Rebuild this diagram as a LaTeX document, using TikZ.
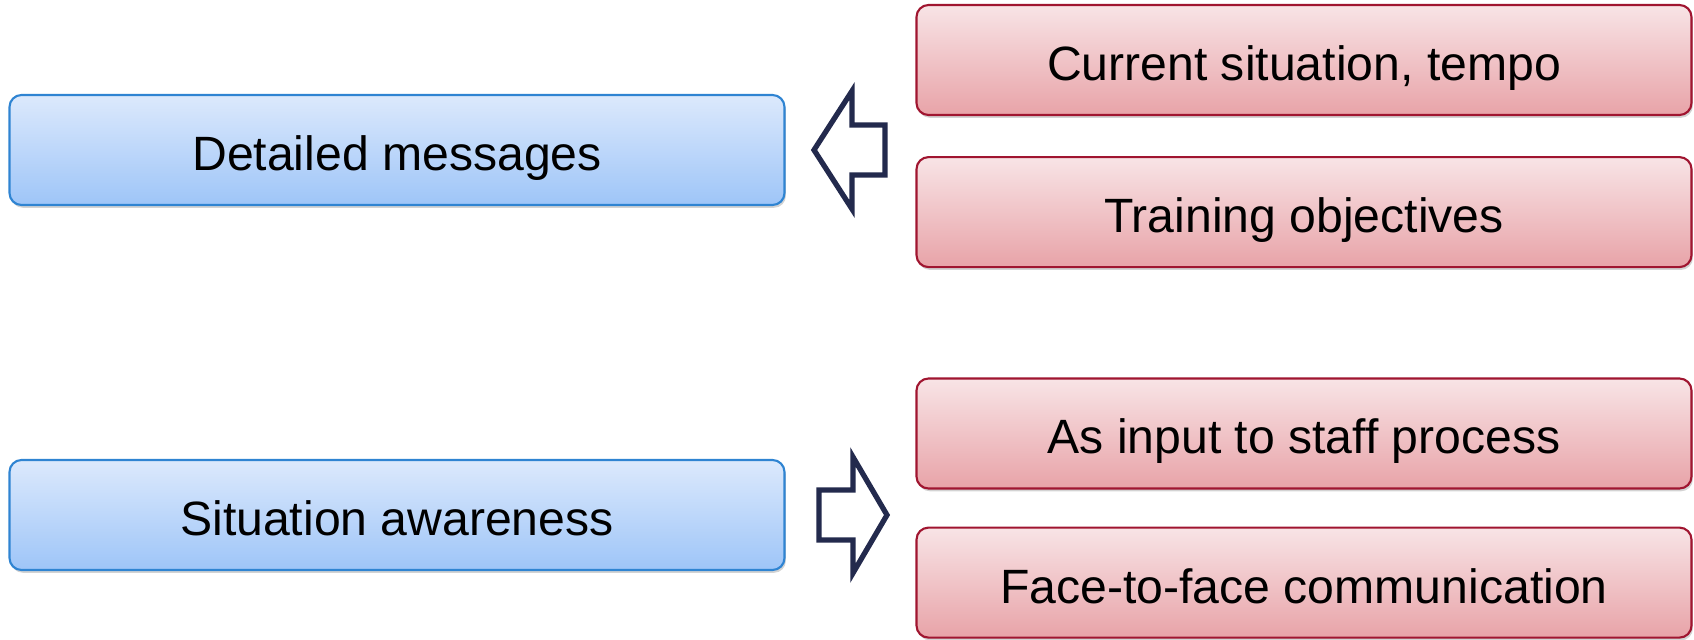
\documentclass[tikz,border=0pt]{standalone}
\usepackage{fontspec}
\setmainfont{Liberation Sans}
\usepackage{xcolor}
\usetikzlibrary{positioning, shadows}

\definecolor{blueTop}{HTML}{DCE9FC}
\definecolor{blueBot}{HTML}{9EC5F8}
\definecolor{blueLine}{HTML}{2F84D2}
\definecolor{redTop}{HTML}{F8E4E6}
\definecolor{redBot}{HTML}{E8A3A8}
\definecolor{redLine}{HTML}{A01530}
\definecolor{arrowNavy}{HTML}{232A4D}

\begin{document}
\begin{tikzpicture}[
    base/.style={rectangle, rounded corners=0.24cm, line width=1.2pt, minimum width=15.5cm, minimum height=2.2cm, font=\fontsize{27.4}{32}\selectfont,
        text height=24.7pt, text depth=1.4pt,
        drop shadow={opacity=0.35, shadow xshift=0.8pt, shadow yshift=-1.6pt}},
    source/.style={base, draw=blueLine, top color=blueTop, bottom color=blueBot},
    item/.style={base, draw=redLine, top color=redTop, bottom color=redBot},
    blockarrow/.style={draw=arrowNavy, line width=3pt, fill=white, line join=miter}]

    \useasboundingbox (0,0) rectangle (33.88,-12.78);

    % upper group
    \node[source] (detail) at (7.94,-3.0) {Detailed messages};
    \node[item] (tempo) at (26.08,-1.2) {Current situation, tempo};
    \node[item, below=0.8cm of tempo] (objectives) {Training objectives};

    % lower group
    \node[source] (aware) at (7.94,-10.3) {Situation awareness};
    \node[item] (staff) at (26.08,-8.67) {As input to staff process};
    \node[item, below=0.74cm of staff] (face) {Face-to-face communication};

    % block arrows between the groups
    \coordinate (arrIn) at (17.7,-3.0);
    \coordinate (arrOut) at (16.38,-10.3);
    \draw[blockarrow] (arrIn) ++(0,0.5) -- ++(-0.66,0) -- ++(0,0.68) -- ++(-0.76,-1.18)
        -- ++(0.76,-1.18) -- ++(0,0.68) -- ++(0.66,0) -- cycle;
    \draw[blockarrow] (arrOut) ++(0,0.5) -- ++(0.68,0) -- ++(0,0.66) -- ++(0.68,-1.16)
        -- ++(-0.68,-1.16) -- ++(0,0.66) -- ++(-0.68,0) -- cycle;
\end{tikzpicture}
\end{document}
